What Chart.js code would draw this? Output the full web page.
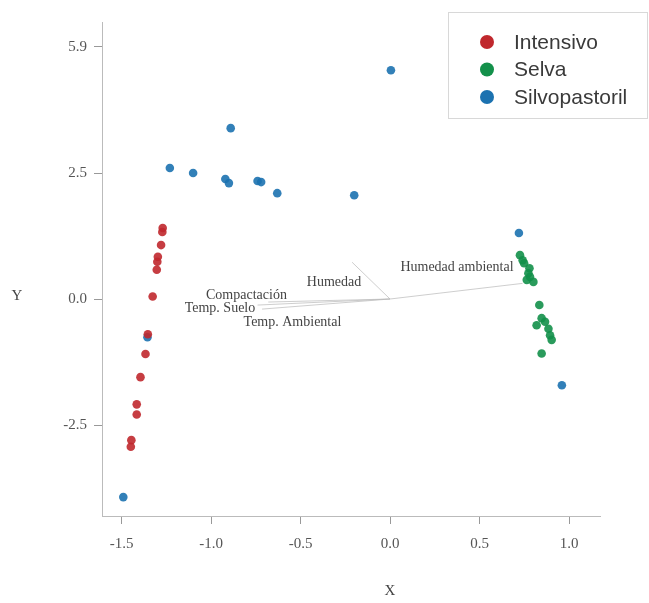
<!DOCTYPE html>
<html>
<head>
<meta charset="utf-8">
<script src="https://cdn.jsdelivr.net/npm/chart.js@4.4.1/dist/chart.umd.min.js"></script>
<style>
  html, body { margin: 0; padding: 0; background: #fff; }
  #wrap { width: 649px; height: 603px; position: relative; }
</style>
</head>
<body>
<div id="wrap"><canvas id="biplot"></canvas></div>
<script>
// group points
const intensivoX = [-1.270, -1.272, -1.279, -1.297, -1.300, -1.303, -1.326, -1.353, -1.366, -1.394, -1.415, -1.415, -1.445, -1.448];
const intensivoY = [1.41, 1.33, 1.07, 0.84, 0.74, 0.58, 0.05, -0.70, -1.09, -1.55, -2.09, -2.29, -2.80, -2.93];

const selvaX = [0.726, 0.741, 0.749, 0.779, 0.773, 0.782, 0.801, 0.764, 0.834, 0.847, 0.819, 0.866, 0.885, 0.894, 0.903, 0.847];
const selvaY = [0.87, 0.77, 0.71, 0.61, 0.51, 0.44, 0.34, 0.38, -0.12, -0.38, -0.52, -0.45, -0.59, -0.72, -0.81, -1.08];

const silvoX = [0.005, -0.89, -1.23, -1.10, -0.92, -0.90, -0.74, -0.72, -0.63, -0.20, 0.72, 0.96, -1.49, -1.355];
const silvoY = [4.54, 3.39, 2.60, 2.50, 2.38, 2.30, 2.34, 2.32, 2.10, 2.06, 1.31, -1.71, -3.93, -0.76];

// loading vectors
const vectorNames = ["Humedad ambiental", "Humedad", "Compactación", "Temp. Suelo", "Temp. Ambiental"];
const vectorX = [0.74, -0.212, -0.68, -0.74, -0.715];
const vectorY = [0.31, 0.73, -0.06, -0.12, -0.20];
const vectorLabelX = [0.374, -0.313, -0.802, -0.950, -0.545];
const vectorLabelY = [0.62, 0.34, 0.08, -0.18, -0.46];

const xTickValues = [-1.5, -1.0, -0.5, 0.0, 0.5, 1.0];
const xTickLabels = ["-1.5", "-1.0", "-0.5", "0.0", "0.5", "1.0"];
const yTickValues = [-2.5, 0.0, 2.5, 5.0];
const yTickLabels = ["-2.5", "0.0", "2.5", "5.9"];

const groupNames = ["Intensivo", "Selva", "Silvopastoril"];
const groupColors = ["#c0282d", "#13904a", "#1c72b0"];

const serif = "'Liberation Serif', 'DejaVu Serif', serif";
const sans = "'Liberation Sans', Arial, sans-serif";

function toPoints(xs, ys) {
  return xs.map((x, i) => ({ x, y: ys[i] }));
}

const pointSets = [
  toPoints(intensivoX, intensivoY),
  toPoints(selvaX, selvaY),
  toPoints(silvoX, silvoY)
];

const vectorDatasets = vectorNames.map((name, i) => ({
  type: "line",
  label: name,
  data: [{ x: 0, y: 0 }, { x: vectorX[i], y: vectorY[i] }],
  borderColor: "rgba(185, 185, 185, 0.7)",
  borderWidth: 1,
  pointRadius: 0,
  fill: false,
  order: 10
}));

const scatterDatasets = groupNames.map((name, i) => ({
  type: "scatter",
  label: name,
  data: pointSets[i],
  backgroundColor: groupColors[i] + "e6",
  borderColor: groupColors[i] + "e6",
  borderWidth: 0,
  pointRadius: 4.3,
  order: 1
}));

const overlayPlugin = {
  id: "overlay",
  afterDatasetsDraw(chart) {
    const { ctx, scales } = chart;
    ctx.save();
    ctx.fillStyle = "#444";
    ctx.font = `14px ${serif}`;
    ctx.textAlign = "center";
    ctx.textBaseline = "middle";
    vectorNames.forEach((name, i) => {
      ctx.fillText(name, scales.x.getPixelForValue(vectorLabelX[i]), scales.y.getPixelForValue(vectorLabelY[i]));
    });
    ctx.restore();
  },
  afterDraw(chart) {
    const { ctx, scales } = chart;
    ctx.save();
    // axis titles
    ctx.fillStyle = "#444";
    ctx.font = `15px ${serif}`;
    ctx.textAlign = "center";
    ctx.textBaseline = "middle";
    ctx.fillText("Y", 17, scales.y.getPixelForValue(0) - 3);
    ctx.fillText("X", scales.x.getPixelForValue(0), 591);

    // legend
    ctx.fillStyle = "#fff";
    ctx.strokeStyle = "#d8d8d8";
    ctx.lineWidth = 1;
    ctx.fillRect(448.5, 12.5, 199, 106);
    ctx.strokeRect(448.5, 12.5, 199, 106);
    ctx.font = `21px ${sans}`;
    ctx.textAlign = "left";
    groupNames.forEach((name, i) => {
      const y = 42 + i * 27.5;
      ctx.beginPath();
      ctx.arc(487, y, 7, 0, Math.PI * 2);
      ctx.fillStyle = groupColors[i];
      ctx.fill();
      ctx.fillStyle = "#3a3a3a";
      ctx.fillText(name, 514, y + 1);
    });
    ctx.restore();
  }
};

new Chart(document.getElementById("biplot"), {
  type: "scatter",
  data: { datasets: [...vectorDatasets, ...scatterDatasets] },
  options: {
    responsive: true,
    maintainAspectRatio: false,
    animation: false,
    layout: { padding: { left: 0, top: 22, right: 49, bottom: 0 } },
    plugins: { legend: { display: false }, tooltip: { enabled: false } },
    scales: {
      x: {
        type: "linear",
        min: -1.609,
        max: 1.173,
        afterFit: scale => { scale.height = 87; },
        afterBuildTicks: scale => { scale.ticks = xTickValues.map(value => ({ value })); },
        grid: { drawOnChartArea: false, drawTicks: true, tickLength: 8, color: "#999" },
        border: { display: true, color: "#bbb", width: 1 },
        ticks: {
          padding: 11,
          color: "#555",
          font: { family: serif, size: 15 },
          callback: value => xTickLabels[xTickValues.indexOf(value)] ?? ""
        }
      },
      y: {
        type: "linear",
        min: -4.305,
        max: 5.496,
        afterFit: scale => { scale.width = 102; },
        afterBuildTicks: scale => { scale.ticks = yTickValues.map(value => ({ value })); },
        grid: { drawOnChartArea: false, drawTicks: true, tickLength: 8, color: "#999" },
        border: { display: true, color: "#bbb", width: 1 },
        ticks: {
          padding: 7,
          color: "#555",
          font: { family: serif, size: 15 },
          callback: value => yTickLabels[yTickValues.indexOf(value)] ?? ""
        }
      }
    }
  },
  plugins: [overlayPlugin]
});
</script>
</body>
</html>
